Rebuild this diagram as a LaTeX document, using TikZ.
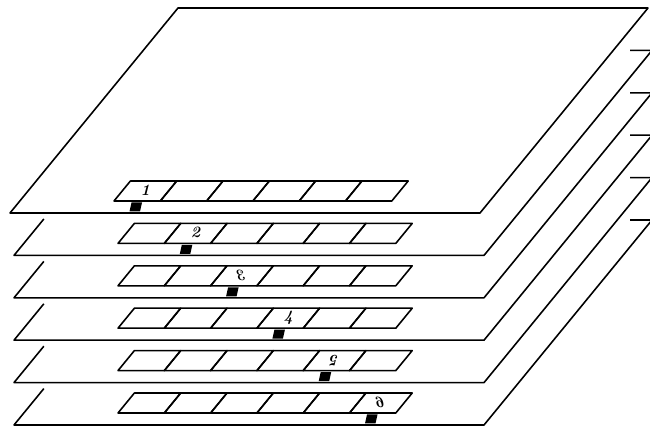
\documentclass[tikz,border=0pt]{standalone}
\begin{document}
\begin{tikzpicture}[line join=round,
    plateline/.style={line width=0.9pt},
    cellbox/.style={line width=0.9pt},
    slotmark/.style={fill=black},
    digit/.style={font=\small\bfseries\itshape, inner sep=0pt}]
    \clip (0,0) rectangle (13,8.58);

    % Layer 1: top plate, drawn whole
    \begin{scope}[xshift=0.2cm, yshift=4.32cm]
        \draw[plateline] (0,0) -- (9.4,0) -- (12.76,4.1) -- (3.36,4.1) -- cycle;
        \foreach \i in {0,...,5}
            \draw[cellbox] (2.08+0.926*\i,0.24) -- ++(0.926,0) -- ++(0.328,0.4) -- ++(-0.926,0) -- cycle;
        \node[digit] (n1) at (2.707,0.45) {1};
        \fill[slotmark] (2.39,0.03) -- (2.60,0.03) -- (2.64,0.21) -- (2.43,0.21) -- cycle;
    \end{scope}

    % Layer 2: only the front and right side show
    \begin{scope}[xshift=0.28cm, yshift=3.472cm]
        \draw[plateline] (12.32,4.1) -- (12.76,4.1) -- (9.4,0) -- (0,0) -- (0.597,0.728);
        \foreach \i in {0,...,5}
            \draw[cellbox] (2.08+0.926*\i,0.24) -- ++(0.926,0) -- ++(0.328,0.4) -- ++(-0.926,0) -- cycle;
        \node[digit] (n2) at (3.633,0.45) {2};
        \fill[slotmark] (3.316,0.03) -- (3.526,0.03) -- (3.566,0.21) -- (3.356,0.21) -- cycle;
    \end{scope}

    % Layer 3
    \begin{scope}[xshift=0.28cm, yshift=2.624cm]
        \draw[plateline] (12.32,4.1) -- (12.76,4.1) -- (9.4,0) -- (0,0) -- (0.597,0.728);
        \foreach \i in {0,...,5}
            \draw[cellbox] (2.08+0.926*\i,0.24) -- ++(0.926,0) -- ++(0.328,0.4) -- ++(-0.926,0) -- cycle;
        \node[digit, xscale=-1] (n3) at (4.559,0.45) {3};
        \fill[slotmark] (4.242,0.03) -- (4.452,0.03) -- (4.492,0.21) -- (4.282,0.21) -- cycle;
    \end{scope}

    % Layer 4
    \begin{scope}[xshift=0.28cm, yshift=1.776cm]
        \draw[plateline] (12.32,4.1) -- (12.76,4.1) -- (9.4,0) -- (0,0) -- (0.597,0.728);
        \foreach \i in {0,...,5}
            \draw[cellbox] (2.08+0.926*\i,0.24) -- ++(0.926,0) -- ++(0.328,0.4) -- ++(-0.926,0) -- cycle;
        \node[digit] (n4) at (5.485,0.45) {4};
        \fill[slotmark] (5.168,0.03) -- (5.378,0.03) -- (5.418,0.21) -- (5.208,0.21) -- cycle;
    \end{scope}

    % Layer 5
    \begin{scope}[xshift=0.28cm, yshift=0.928cm]
        \draw[plateline] (12.32,4.1) -- (12.76,4.1) -- (9.4,0) -- (0,0) -- (0.597,0.728);
        \foreach \i in {0,...,5}
            \draw[cellbox] (2.08+0.926*\i,0.24) -- ++(0.926,0) -- ++(0.328,0.4) -- ++(-0.926,0) -- cycle;
        \node[digit, rotate=180] (n5) at (6.411,0.45) {5};
        \fill[slotmark] (6.094,0.03) -- (6.304,0.03) -- (6.344,0.21) -- (6.134,0.21) -- cycle;
    \end{scope}

    % Layer 6: bottom plate
    \begin{scope}[xshift=0.28cm, yshift=0.08cm]
        \draw[plateline] (12.32,4.1) -- (12.76,4.1) -- (9.4,0) -- (0,0) -- (0.597,0.728);
        \foreach \i in {0,...,5}
            \draw[cellbox] (2.08+0.926*\i,0.24) -- ++(0.926,0) -- ++(0.328,0.4) -- ++(-0.926,0) -- cycle;
        \node[digit, xscale=-1] (n6) at (7.337,0.45) {6};
        \fill[slotmark] (7.02,0.03) -- (7.23,0.03) -- (7.27,0.21) -- (7.06,0.21) -- cycle;
    \end{scope}
\end{tikzpicture}
\end{document}
